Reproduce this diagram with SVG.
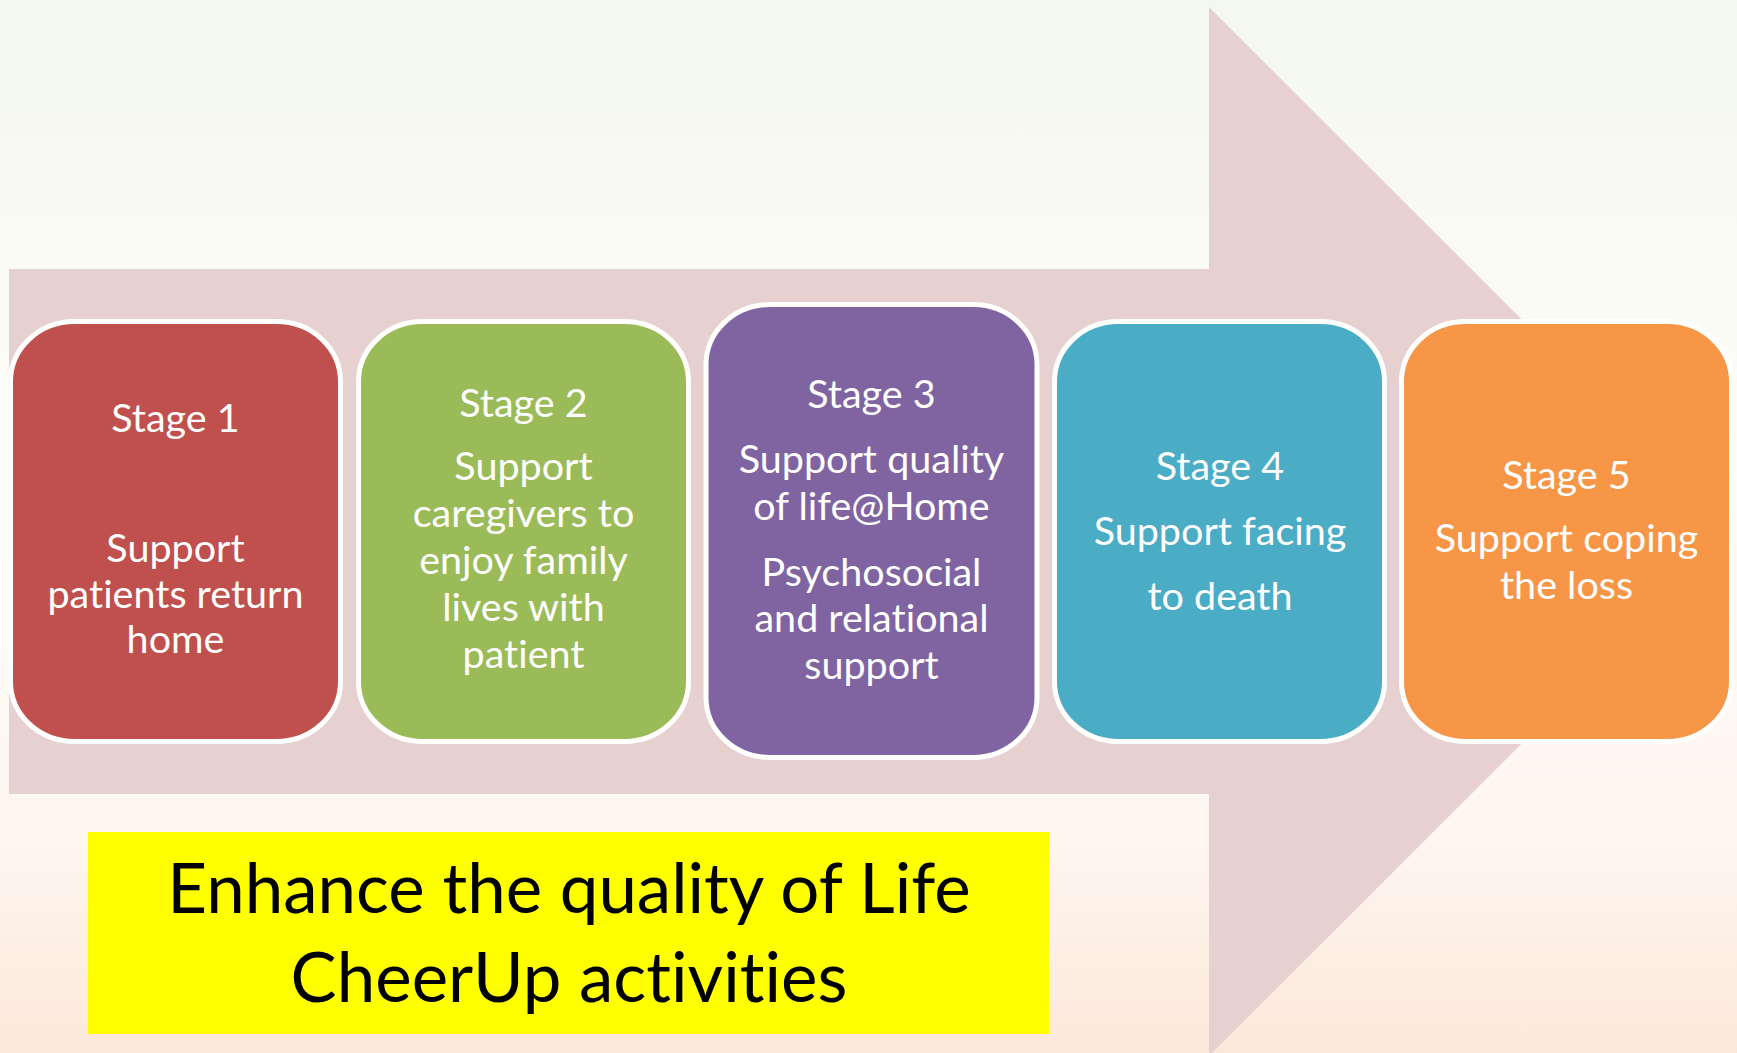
<svg xmlns="http://www.w3.org/2000/svg" width="1737" height="1053" viewBox="0 0 1737 1053">
<defs>
<linearGradient id="bg" x1="0" y1="0" x2="0" y2="1">
<stop offset="0" stop-color="#F4F8EE"/>
<stop offset="0.45" stop-color="#FEFDF9"/>
<stop offset="0.8" stop-color="#FEF6EF"/>
<stop offset="1" stop-color="#FCE8DA"/>
</linearGradient>
<style>
.box{stroke:#FFFFFF;stroke-width:5}
.t{font-family:Lato,"Open Sans","Liberation Sans",sans-serif;font-size:39.5px;fill:#FFFFFF;text-anchor:middle;font-variant-ligatures:none;font-feature-settings:"liga" 0}
.big{font-family:Lato,"Open Sans","Liberation Sans",sans-serif;font-size:69px;fill:#000000;text-anchor:middle;font-variant-ligatures:none;font-feature-settings:"liga" 0}
</style>
</defs>
<rect x="0" y="0" width="1737" height="1053" fill="url(#bg)"/>
<g id="arrow">
<polygon points="9,269 1209,269 1209,7 1734,531.5 1209,1056 1209,794 9,794" fill="#E7D0D0"/>
</g>
<g id="connectors"></g>
<g id="stage1">
<rect class="box" x="10.5" y="321.5" width="330" height="420" rx="64" ry="60" fill="#C0504D"/>
<text class="t" x="175.5" y="432">Stage 1</text>
<text class="t" x="175.5" y="562">Support</text>
<text class="t" x="175.5" y="608">patients return</text>
<text class="t" x="175.5" y="653">home</text>
</g>
<g id="stage2">
<rect class="box" x="358.5" y="321.5" width="330" height="420" rx="64" ry="60" fill="#9BBB59"/>
<text class="t" x="523.5" y="417">Stage 2</text>
<text class="t" x="523.5" y="480">Support</text>
<text class="t" x="523.5" y="527">caregivers to</text>
<text class="t" x="523.5" y="574">enjoy family</text>
<text class="t" x="523.5" y="621">lives with</text>
<text class="t" x="523.5" y="668">patient</text>
</g>
<g id="stage3">
<rect class="box" x="706" y="304.5" width="331" height="453" rx="64" ry="60" fill="#8064A2"/>
<text class="t" x="871.5" y="408">Stage 3</text>
<text class="t" x="871.5" y="473">Support quality</text>
<text class="t" x="871.5" y="520">of life@Home</text>
<text class="t" x="871.5" y="586">Psychosocial</text>
<text class="t" x="871.5" y="632">and relational</text>
<text class="t" x="871.5" y="679">support</text>
</g>
<g id="stage4">
<rect class="box" x="1054.5" y="321.5" width="330" height="420" rx="64" ry="60" fill="#4BACC6"/>
<text class="t" x="1220" y="480">Stage 4</text>
<text class="t" x="1220" y="545">Support facing</text>
<text class="t" x="1220" y="610">to death</text>
</g>
<g id="stage5">
<rect class="box" x="1401.5" y="321.5" width="330" height="420" rx="64" ry="60" fill="#F79646"/>
<text class="t" x="1566.5" y="489">Stage 5</text>
<text class="t" x="1566.5" y="552">Support coping</text>
<text class="t" x="1566.5" y="599">the loss</text>
</g>
<g id="banner">
<rect x="88" y="832" width="961" height="202" fill="#FFFF00"/>
<text class="big" x="569" y="913">Enhance the quality of Life</text>
<text class="big" x="569" y="1002">CheerUp activities</text>
</g>
</svg>
